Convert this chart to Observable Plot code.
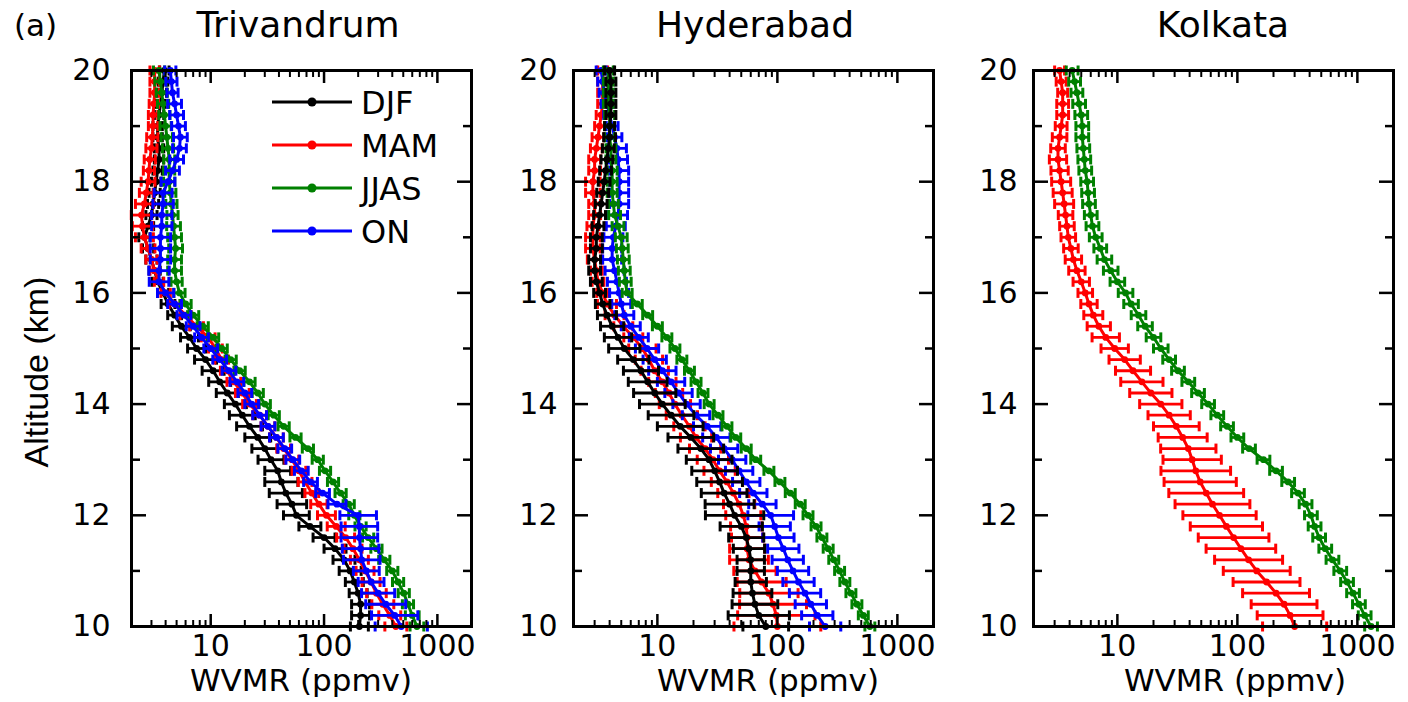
<!DOCTYPE html>
<html><head><meta charset="utf-8">
<script src="https://cdn.jsdelivr.net/npm/d3@7"></script>
<script src="https://cdn.jsdelivr.net/npm/@observablehq/plot@0.6"></script>
<style>
html,body{margin:0;padding:0;background:#fff;}
#wrap{position:relative;width:1408px;height:702px;overflow:hidden;font-family:"DejaVu Sans",sans-serif;}
.panel{position:absolute;top:0;}
#overlay{position:absolute;left:0;top:0;}
</style></head><body><div id="wrap"></div>
<script>
// ---------- data ----------
const altitudes = [10.0,10.2,10.4,10.6,10.8,11.0,11.2,11.4,11.6,11.8,12.0,12.2,12.4,12.6,12.8,13.0,13.2,13.4,13.6,13.8,14.0,14.2,14.4,14.6,14.8,15.0,15.2,15.4,15.6,15.8,16.0,16.2,16.4,16.6,16.8,17.0,17.2,17.4,17.6,17.8,18.0,18.2,18.4,18.6,18.8,19.0,19.2,19.4,19.6,19.8,20.0];

const seasons = ["DJF","MAM","JJAS","ON"];
const seasonColors = ["#000000","#ff0000","#008000","#0000ff"];
const stations = ["Trivandrum","Hyderabad","Kolkata"];

// mean WVMR (ppmv) and geometric spread factor (1-sigma) per altitude level
const tvmDJF = [205,210,210,200,185, 170,150,125,100,75, 57,52,46,42,39, 34,30,26,22,19, 16.5,14,12,10.5,9, 7.5,6.5,5.5,4.8,4.2, 3.8,3.4,3.2,3.0,2.8, 2.6,2.8,3.0,3.1,3.2, 3.3,3.4,3.5,3.5,3.4, 3.4,3.5,3.6,3.7,3.8, 3.9];
const tvmDJFsp = [1.2,1.2,1.2,1.2,1.2, 1.25,1.25,1.25,1.25,1.25, 1.3,1.35,1.4,1.4,1.3, 1.3,1.3,1.3,1.3,1.3, 1.25,1.25,1.25,1.25,1.25, 1.2,1.2,1.2,1.15,1.15, 1.12,1.12,1.12,1.12,1.12, 1.12,1.12,1.12,1.12,1.12, 1.1,1.1,1.1,1.1,1.1, 1.1,1.1,1.1,1.1,1.1, 1.1];
const tvmMAM = [430,380,330,290,260, 230,205,180,155,128, 105,90,78,68,60, 52,44,38,32,27, 22,19,16,14,12.5, 11,9.5,7.5,6,4.8, 4.0,3.5,3.2,3.0,2.8, 2.6,2.5,2.45,2.6,2.7, 2.8,2.85,2.9,3.0,3.05, 3.1,3.1,3.15,3.2,3.2, 3.2];
const tvmMAMsp = [1.25,1.25,1.25,1.22,1.2, 1.2,1.2,1.2,1.2,1.2, 1.2,1.18,1.15,1.15,1.15, 1.15,1.15,1.15,1.15,1.15, 1.15,1.15,1.15,1.15,1.15, 1.15,1.15,1.15,1.12,1.12, 1.1,1.1,1.1,1.12,1.15, 1.2,1.23,1.23,1.2,1.15, 1.15,1.12,1.12,1.12,1.12, 1.1,1.1,1.1,1.1,1.1, 1.1];
const tvmJJAS = [660,600,550,505,450, 400,340,290,245,210, 185,165,140,120,102, 88,72,56,44,36, 30,26,22,18,15, 12.5,10.5,8.5,7,6, 5.3,5.0,4.8,4.8,4.9, 4.8,4.7,4.6,4.5,4.4, 4.3,4.3,4.3,4.2,4.1, 4.0,3.9,3.8,3.7,3.6, 3.5];
const tvmJJASsp = [1.15,1.15,1.12,1.12,1.12, 1.12,1.12,1.12,1.12,1.12, 1.12,1.12,1.12,1.12,1.12, 1.12,1.12,1.12,1.12,1.12, 1.12,1.12,1.12,1.12,1.12, 1.12,1.12,1.12,1.12,1.12, 1.12,1.12,1.15,1.15,1.15, 1.15,1.15,1.12,1.12,1.12, 1.12,1.12,1.12,1.12,1.12, 1.12,1.12,1.12,1.12,1.12, 1.12];
const tvmON = [480,420,350,300,260, 236,215,210,205,205, 200,130,97,76,63, 53,45,38,32,27, 23,20,17,14.5,12, 10,8.3,7,5.8,4.8, 4.0,3.5,3.5,3.6,3.6, 3.6,3.7,3.7,3.8,3.8, 4.2,4.6,5.0,5.3,5.4, 5.2,5.0,4.8,4.6,4.5, 4.4];
const tvmONsp = [1.7,1.6,1.5,1.4,1.3, 1.3,1.45,1.45,1.45,1.45, 1.45,1.2,1.15,1.15,1.15, 1.15,1.15,1.15,1.15,1.15, 1.15,1.15,1.15,1.15,1.15, 1.15,1.15,1.15,1.15,1.15, 1.18,1.22,1.23,1.23,1.23, 1.23,1.23,1.23,1.23,1.2, 1.15,1.15,1.15,1.15,1.15, 1.15,1.15,1.15,1.12,1.12, 1.12];

const hydDJF = [80,70,65,62,60, 60,60,58,55,50, 44,40,36,33,30, 27,23,19,15.5,13, 11,9.5,8.3,7.3,6.3, 5.3,4.7,4.2,3.8,3.5, 3.3,3.1,3.0,3.0,3.1, 3.1,3.2,3.3,3.4,3.5, 3.6,3.7,3.8,3.9,4.0, 4.0,4.1,4.1,4.1,4.1, 4.0];
const hydDJFsp = [1.55,1.8,1.55,1.45,1.35, 1.3,1.3,1.35,1.4,1.5, 1.75,1.6,1.55,1.55,1.55, 1.55,1.55,1.55,1.55,1.55, 1.55,1.5,1.45,1.4,1.35, 1.35,1.3,1.25,1.2,1.15, 1.12,1.12,1.12,1.12,1.12, 1.12,1.12,1.12,1.12,1.12, 1.12,1.12,1.12,1.12,1.12, 1.1,1.1,1.1,1.1,1.1, 1.1];
const hydMAM = [100,98,92,85,74, 65,58,56,56,55, 52,48,43,38,33, 29,25,21,18.5,16, 14,12.5,11,9.5,8.5, 7.5,6.3,5.2,4.4,3.8, 3.5,3.2,3.1,3.0,2.9, 2.9,2.9,3.0,3.0,2.9, 2.9,3.0,3.0,3.1,3.2, 3.3,3.4,3.5,3.5,3.5, 3.5];
const hydMAMsp = [2.3,2.1,1.9,1.75,1.6, 1.5,1.45,1.4,1.35,1.35, 1.4,1.35,1.35,1.35,1.35, 1.35,1.35,1.35,1.35,1.35, 1.35,1.3,1.3,1.3,1.3, 1.3,1.2,1.2,1.2,1.2, 1.12,1.12,1.12,1.15,1.15, 1.15,1.12,1.12,1.12,1.15, 1.15,1.12,1.12,1.12,1.12, 1.1,1.1,1.1,1.1,1.1, 1.1];
const hydJJAS = [590,520,460,410,365, 330,295,265,235,210, 180,155,128,105,85, 66,55,45,38,32, 27,24,21,18.5,16, 14,12,10,8.3,6.8, 5.6,5.4,5.3,5.2,5.1, 5.0,4.7,4.4,4.3,4.2, 4.2,4.2,4.1,4.1,4.0, 4.0,4.0,3.9,3.9,3.9, 3.9];
const hydJJASsp = [1.1,1.1,1.1,1.1,1.1, 1.1,1.1,1.1,1.1,1.1, 1.1,1.1,1.1,1.1,1.1, 1.1,1.1,1.1,1.1,1.1, 1.1,1.1,1.1,1.1,1.1, 1.1,1.1,1.1,1.1,1.1, 1.1,1.12,1.12,1.12,1.12, 1.12,1.12,1.12,1.1,1.1, 1.1,1.1,1.1,1.1,1.1, 1.1,1.1,1.1,1.1,1.1, 1.1];
const hydON = [250,215,190,170,150, 135,122,112,102,95, 88,75,63,55,48, 42,36,31,26,21, 17.5,15,13,11,9.5, 8.2,7,6,5.3,5.0, 4.8,4.6,4.4,4.2,4.2, 4.3,4.5,4.7,4.8,4.8, 4.8,4.8,4.7,4.6,4.4, 4.2,4.0,3.8,3.6,3.5, 3.4];
const hydONsp = [1.35,1.35,1.35,1.35,1.35, 1.35,1.35,1.35,1.35,1.35, 1.55,1.3,1.3,1.3,1.3, 1.3,1.3,1.3,1.3,1.3, 1.3,1.3,1.3,1.3,1.25, 1.25,1.2,1.2,1.2,1.2, 1.2,1.2,1.2,1.2,1.2, 1.2,1.2,1.2,1.2,1.2, 1.2,1.2,1.2,1.2,1.15, 1.12,1.12,1.12,1.1,1.1, 1.1];

const kolMAM = [300,275,245,210,175, 145,124,107,93,81, 71,62,55,49,45, 42,39,35,31,27, 23,19,16,13.5,11.5, 9.5,8.0,7.0,6.3,5.8, 5.4,5.0,4.6,4.3,4.1, 3.9,3.8,3.7,3.6,3.5, 3.4,3.3,3.2,3.2,3.3, 3.4,3.5,3.5,3.5,3.4, 3.3];
const kolMAMsp = [1.85,1.88,1.88,1.9,1.9, 1.9,1.92,1.95,1.97,2.0, 2.02,2.05,2.05,2.0,1.95, 1.75,1.7,1.6,1.55,1.5, 1.5,1.5,1.5,1.4,1.35, 1.3,1.3,1.25,1.2,1.17, 1.15,1.17,1.17,1.17,1.15, 1.15,1.15,1.15,1.2,1.2, 1.2,1.18,1.18,1.15,1.15, 1.12,1.12,1.12,1.1,1.1, 1.1];
const kolJJAS = [1300,1150,1030,920,820, 720,620,540,480,440, 410,370,320,265,210, 165,125,100,82,68, 57,47,39,32,27, 23,20,17,15,13, 11.7,10,8.8,7.8,7.2, 6.6,6.2,6.0,5.8,5.7, 5.6,5.4,5.3,5.2,5.1, 5.1,5.0,4.8,4.6,4.4, 4.2];
const kolJJASsp = [1.13,1.13,1.13,1.13,1.13, 1.13,1.13,1.13,1.13,1.13, 1.13,1.13,1.13,1.13,1.13, 1.13,1.13,1.13,1.13,1.13, 1.13,1.13,1.13,1.13,1.13, 1.15,1.15,1.15,1.15,1.15, 1.15,1.15,1.15,1.15,1.13, 1.13,1.13,1.13,1.13,1.13, 1.13,1.13,1.13,1.13,1.13, 1.13,1.13,1.13,1.12,1.12, 1.12];

// axis ticks
const yLabelTicks = [10,12,14,16,18,20];
const yOddTicks = [11,13,15,17,19];
const xMajorTicks = [10,100,1000];
const xMinorTicks = [3,4,5,6,7,8,9,20,30,40,50,60,70,80,90,200,300,400,500,600,700,800,900];
const xDomain = [2,2000];
const yDomain = [10,20];

// ---------- layout ----------
const FONT = '"DejaVu Sans", sans-serif';
const panels = [
  {station: 0, left: 0,   width: 490, ml: 131, mr: 19, pad: 21,
   series: [[0,tvmDJF,tvmDJFsp],[1,tvmMAM,tvmMAMsp],[2,tvmJJAS,tvmJJASsp],[3,tvmON,tvmONsp]],
   titleX: 298, labelX: 301},
  {station: 1, left: 490, width: 460, ml: 83, mr: 17, pad: 16,
   series: [[1,hydMAM,hydMAMsp],[3,hydON,hydONsp],[2,hydJJAS,hydJJASsp],[0,hydDJF,hydDJFsp]],
   titleX: 755, labelX: 768},
  {station: 2, left: 950, width: 458, ml: 83, mr: 15, pad: 16,
   series: [[1,kolMAM,kolMAMsp],[2,kolJJAS,kolJJASsp]],
   titleX: 1223, labelX: 1235}
];

const vbar = {draw(ctx, size){ const h = Math.sqrt(size/Math.PI); ctx.moveTo(0,-h); ctx.lineTo(0,h); }};

function seriesMarks(si, mean, spread){
  const color = seasonColors[si];
  const rows = altitudes.map((a,i)=>({alt:a, mean:mean[i], lo:mean[i]/spread[i], hi:mean[i]*spread[i]}));
  return [
    Plot.ruleY(rows,{y:"alt", x1:"lo", x2:"hi", stroke:color, strokeWidth:2.8}),
    Plot.dot(rows,{x:"lo", y:"alt", symbol:vbar, r:5, stroke:color, strokeWidth:3, fill:"none"}),
    Plot.dot(rows,{x:"hi", y:"alt", symbol:vbar, r:5, stroke:color, strokeWidth:3, fill:"none"}),
    Plot.line(rows,{x:"mean", y:"alt", stroke:color, strokeWidth:3}),
    Plot.dot(rows,{x:"mean", y:"alt", r:3.4, fill:color})
  ];
}

const wrap = document.getElementById("wrap");
const blank = () => "";

for (const p of panels) {
  const marks = [];
  for (const [si, m, sp] of p.series) marks.push(...seriesMarks(si, m, sp));
  marks.push(
    Plot.axisY(yLabelTicks,{anchor:"left", tickSize:0, tickPadding:p.pad, fontSize:30, tickFormat:d=>String(d), label:null}),
    Plot.axisY(yLabelTicks,{anchor:"left", tickSize:15, dx:15, tickFormat:blank, strokeWidth:2.5, label:null}),
    Plot.axisY(yOddTicks,{anchor:"left", tickSize:9, dx:9, tickFormat:blank, strokeWidth:2.5, label:null}),
    Plot.axisY(yLabelTicks,{anchor:"right", tickSize:15, dx:-15, tickFormat:blank, strokeWidth:2.5, label:null}),
    Plot.axisY(yOddTicks,{anchor:"right", tickSize:9, dx:-9, tickFormat:blank, strokeWidth:2.5, label:null}),
    Plot.axisX(xMajorTicks,{anchor:"bottom", tickSize:0, tickPadding:8, fontSize:30, tickFormat:d=>String(d), label:null}),
    Plot.axisX(xMajorTicks,{anchor:"bottom", tickSize:12, dy:-12, tickFormat:blank, strokeWidth:2.5, label:null}),
    Plot.axisX(xMajorTicks,{anchor:"top", tickSize:12, dy:12, tickFormat:blank, strokeWidth:2.5, label:null}),
    Plot.axisX(xMinorTicks,{anchor:"bottom", tickSize:6, dy:-6, tickFormat:blank, strokeWidth:2, label:null}),
    Plot.axisX(xMinorTicks,{anchor:"top", tickSize:6, dy:6, tickFormat:blank, strokeWidth:2, label:null}),
    Plot.frame({stroke:"black", strokeWidth:3})
  );
  const chart = Plot.plot({
    width: p.width, height: 702,
    marginTop: 70, marginBottom: 76, marginLeft: p.ml, marginRight: p.mr,
    x: {type:"log", domain:xDomain, label:null},
    y: {domain:yDomain, label:null},
    style: {fontFamily: FONT, fontSize:"30px", color:"black", background:"transparent", overflow:"visible"},
    marks
  });
  const div = document.createElement("div");
  div.className = "panel";
  div.style.left = p.left + "px";
  div.appendChild(chart);
  wrap.appendChild(div);
}

// ---------- overlay: titles, axis labels, legend ----------
const ov = d3.select(wrap).append("svg").attr("id","overlay")
  .attr("width",1408).attr("height",702)
  .style("font-family", FONT);

ov.append("text").attr("x",14).attr("y",36).attr("font-size",31).text("(a)");
for (const p of panels) {
  ov.append("text").attr("x",p.titleX).attr("y",37).attr("text-anchor","middle")
    .attr("font-size",36).text(stations[p.station]);
  ov.append("text").attr("x",p.labelX).attr("y",691).attr("text-anchor","middle")
    .attr("font-size",31).text("WVMR (ppmv)");
}
ov.append("text").attr("transform","translate(48,372) rotate(-90)")
  .attr("text-anchor","middle").attr("font-size",34)
  .style("font-family",'"Liberation Sans", Arial, sans-serif').text("Altitude (km)");

const legendY = [102,145,188,231];
seasons.forEach((s,i)=>{
  const g = ov.append("g");
  g.append("line").attr("x1",272).attr("x2",352).attr("y1",legendY[i]).attr("y2",legendY[i])
    .attr("stroke",seasonColors[i]).attr("stroke-width",3);
  g.append("circle").attr("cx",312).attr("cy",legendY[i]).attr("r",4.5).attr("fill",seasonColors[i]);
  g.append("text").attr("x",361).attr("y",legendY[i]).attr("dy","0.36em")
    .attr("font-size",32).text(s);
});
</script>
</body></html>
